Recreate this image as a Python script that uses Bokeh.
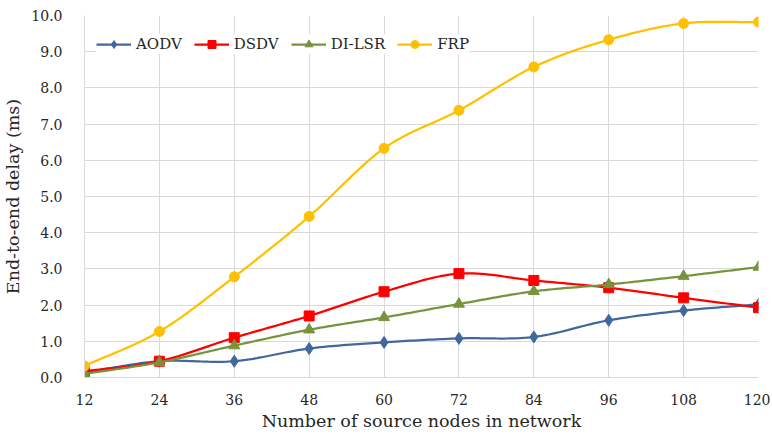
from bokeh.plotting import figure
from bokeh.models import FixedTicker, PrintfTickFormatter, Legend, LegendItem, Range1d
from bokeh.embed import file_html
from bokeh.resources import INLINE
import numpy as np

nodes = [12, 24, 36, 48, 60, 72, 84, 96, 108, 120]
aodv = [0.14, 0.45, 0.45, 0.80, 0.97, 1.08, 1.12, 1.58, 1.85, 2.02]
dsdv = [0.17, 0.45, 1.10, 1.70, 2.37, 2.87, 2.68, 2.48, 2.20, 1.93]
dilsr = [0.10, 0.42, 0.88, 1.32, 1.66, 2.03, 2.38, 2.57, 2.80, 3.05]
frp = [0.32, 1.27, 2.78, 4.45, 6.33, 7.38, 8.58, 9.33, 9.78, 9.82]
y_ticks = [0, 1, 2, 3, 4, 5, 6, 7, 8, 9, 10]


def smooth(xs, ys, n=20):
    # Catmull-Rom style smoothing for line rendering (as in a spreadsheet smoothed line)
    xs = np.asarray(xs, float)
    ys = np.asarray(ys, float)
    px = np.concatenate([[2 * xs[0] - xs[1]], xs, [2 * xs[-1] - xs[-2]]])
    py = np.concatenate([[2 * ys[0] - ys[1]], ys, [2 * ys[-1] - ys[-2]]])
    ox, oy = [], []
    t = np.linspace(0, 1, n, endpoint=False)
    for i in range(1, len(px) - 2):
        for arr, out in ((px, ox), (py, oy)):
            p0, p1, p2, p3 = arr[i - 1], arr[i], arr[i + 1], arr[i + 2]
            m1 = (p2 - p0) / 2
            m2 = (p3 - p1) / 2
            h00 = 2 * t**3 - 3 * t**2 + 1
            h10 = t**3 - 2 * t**2 + t
            h01 = -2 * t**3 + 3 * t**2
            h11 = t**3 - t**2
            out.extend(h00 * p1 + h10 * m1 + h01 * p2 + h11 * m2)
    ox.append(xs[-1])
    oy.append(ys[-1])
    return ox, oy


p = figure(width=770, height=439, output_backend="svg", toolbar_location=None,
           x_range=Range1d(12, 120), y_range=Range1d(0, 10))
p.min_border_left = 83
p.min_border_right = 12
p.min_border_top = 15
p.min_border_bottom = 62
p.outline_line_color = None

font = "DejaVu Serif"
p.xaxis.ticker = FixedTicker(ticks=nodes)
p.yaxis.ticker = FixedTicker(ticks=y_ticks)
p.yaxis.formatter = PrintfTickFormatter(format="%.1f")
for ax in (p.xaxis[0], p.yaxis[0]):
    ax.major_tick_line_color = None
    ax.minor_tick_line_color = None
    ax.axis_line_color = "#d9d9d9"
    ax.major_label_text_font = font
    ax.major_label_text_font_size = "14px"
    ax.major_label_text_color = "#262626"
    ax.axis_label_text_font = font
    ax.axis_label_text_font_size = "17.5px"
    ax.axis_label_text_font_style = "normal"
    ax.axis_label_text_color = "#262626"
p.xaxis.axis_label = "Number of source nodes in network"
p.yaxis.axis_label = "End-to-end delay (ms)"
p.xaxis.major_label_standoff = 10
p.yaxis.major_label_standoff = 16
p.xaxis.axis_label_standoff = 3
p.yaxis.axis_label_standoff = 5

p.xgrid.grid_line_color = "#d9d9d9"
p.ygrid.grid_line_color = "#d9d9d9"

series = [
    ("AODV", aodv, "#41689e", "diamond", 12),
    ("DSDV", dsdv, "#ff0000", "square", 10),
    ("DI-LSR", dilsr, "#77933c", "triangle", 11),
    ("FRP", frp, "#ffc000", "circle", 10),
]
items = []
for name, ys, color, marker, size in series:
    sx, sy = smooth(nodes, ys)
    l = p.line(sx, sy, line_color=color, line_width=2.25)
    m = p.scatter(nodes, ys, marker=marker, size=size, fill_color=color, line_color=color)
    items.append(LegendItem(label=name, renderers=[l, m]))

legend = Legend(items=items, orientation="horizontal", location=(12, 323))
legend.label_text_font = font
legend.label_text_font_size = "15px"
legend.label_text_color = "#262626"
legend.border_line_color = None
legend.background_fill_alpha = 1
legend.glyph_width = 35
legend.spacing = 12
legend.label_standoff = 5
legend.padding = 4
p.add_layout(legend)

open("out.html", "w").write(file_html(p, INLINE))
